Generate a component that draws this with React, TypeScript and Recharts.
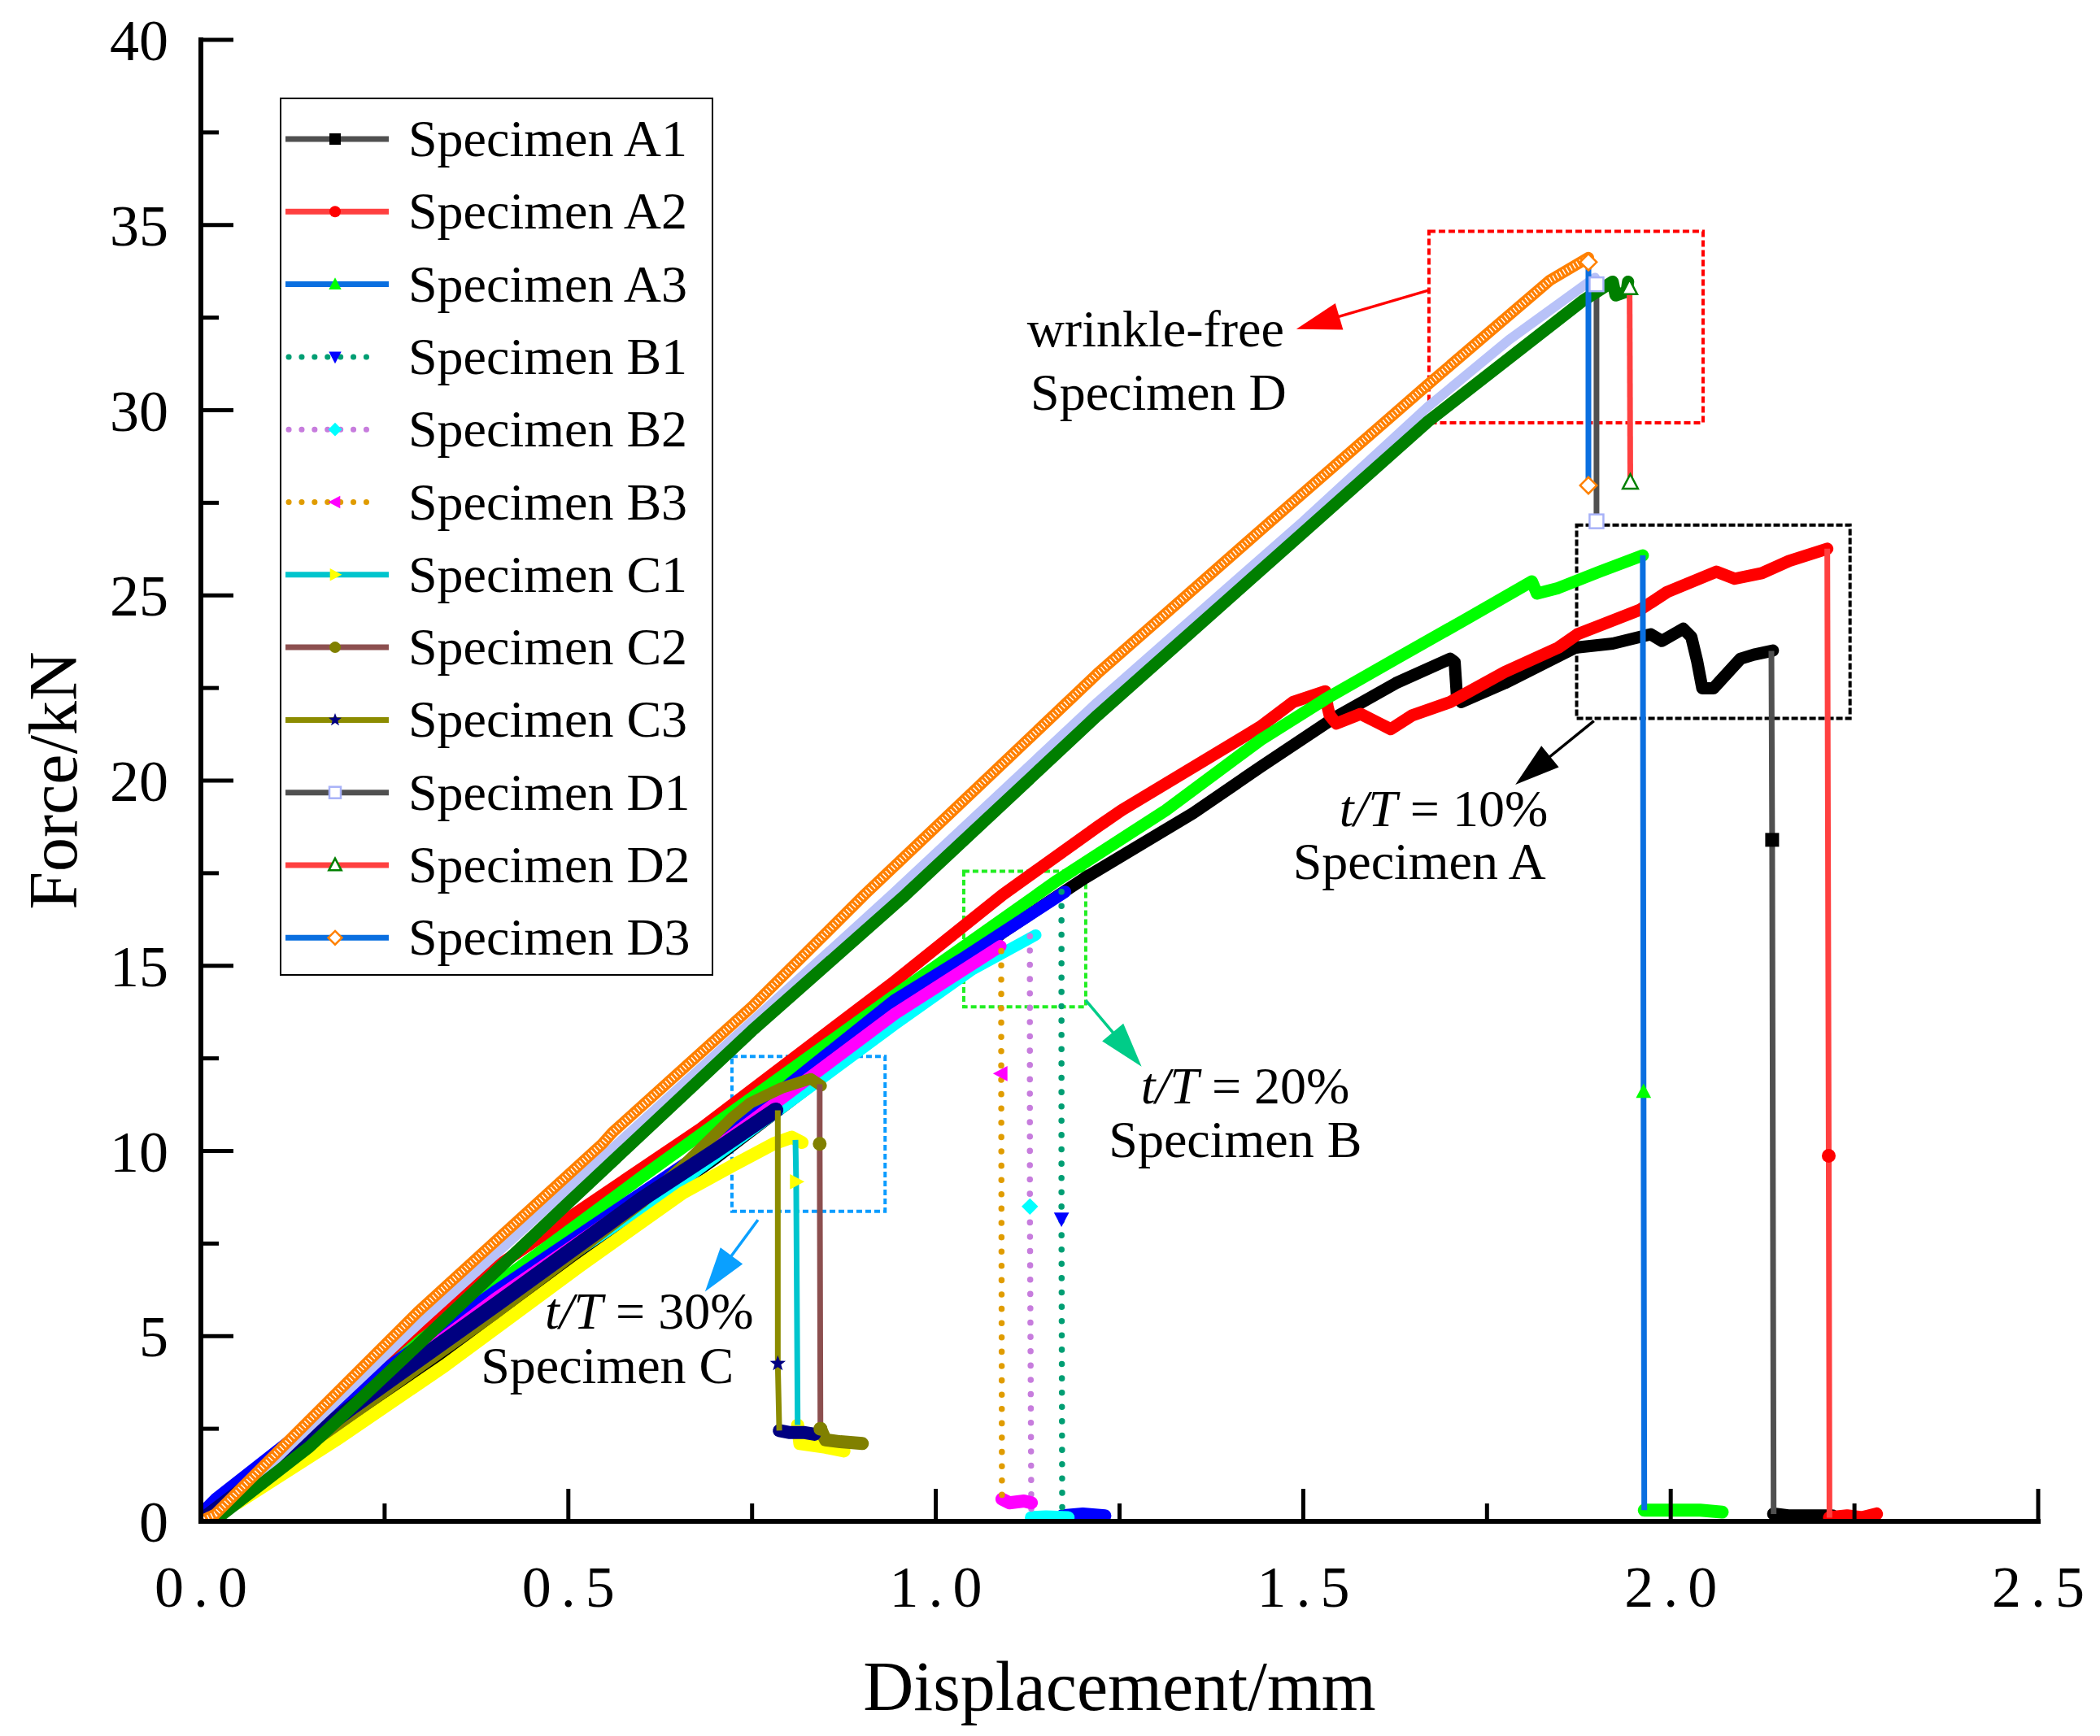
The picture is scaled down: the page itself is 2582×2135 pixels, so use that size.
import React from 'react';
import {
  ComposedChart, Line, XAxis, YAxis, Legend, ReferenceArea, ReferenceLine, ReferenceDot, Label,
} from 'recharts';

const FONT = '"Liberation Serif", "Times New Roman", serif';

// ---------- axis ticks ----------
const X_TICKS = [0, 0.25, 0.5, 0.75, 1, 1.25, 1.5, 1.75, 2, 2.25, 2.5];
const X_LABELS = ['0.0', '0.5', '1.0', '1.5', '2.0', '2.5'];
const Y_TICKS = [0, 2.5, 5, 7.5, 10, 12.5, 15, 17.5, 20, 22.5, 25, 27.5, 30, 32.5, 35, 37.5, 40];
const Y_LABELS = ['0', '5', '10', '15', '20', '25', '30', '35', '40'];

// ---------- series names ----------
const NAMES = [
  'Specimen A1', 'Specimen A2', 'Specimen A3',
  'Specimen B1', 'Specimen B2', 'Specimen B3',
  'Specimen C1', 'Specimen C2', 'Specimen C3',
  'Specimen D1', 'Specimen D2', 'Specimen D3',
];

// ---------- data: [displacement mm, force kN] ----------
const A1_LOAD: [number, number][] = [[0, 0], [0.05, 0.5], [0.184, 2.5], [0.332, 4.6], [0.5, 7.0], [0.7, 9.8], [0.944, 13.5], [1.091, 15.9], [1.202, 17.36], [1.35, 19.12], [1.442, 20.37], [1.541, 21.68], [1.626, 22.63], [1.7, 23.29], [1.706, 23.2], [1.709, 22.3], [1.715, 22.12], [1.774, 22.63], [1.87, 23.59], [1.921, 23.7], [1.973, 23.95], [1.988, 23.77], [2.017, 24.1], [2.028, 23.88], [2.036, 23.22], [2.043, 22.49], [2.058, 22.49], [2.095, 23.29], [2.113, 23.4], [2.139, 23.51]];
const A1_DROP: [number, number][] = [[2.137, 23.5], [2.138, 18.4], [2.14, 0.2]];
const A1_TAIL: [number, number][] = [[2.14, 0.2], [2.16, 0.15], [2.19, 0.15], [2.22, 0.15]];

const A2_LOAD: [number, number][] = [[0, 0], [0.05, 0.6], [0.2, 3.5], [0.387, 6.67], [0.68, 10.6], [0.944, 14.58], [1.091, 16.92], [1.22, 18.75], [1.253, 19.2], [1.442, 21.46], [1.486, 22.12], [1.53, 22.41], [1.533, 22.0], [1.536, 21.76], [1.545, 21.54], [1.578, 21.8], [1.604, 21.54], [1.619, 21.39], [1.648, 21.76], [1.7, 22.12], [1.774, 22.93], [1.847, 23.59], [1.873, 23.95], [1.958, 24.61], [1.995, 25.09], [2.062, 25.64], [2.087, 25.45], [2.124, 25.6], [2.161, 25.93], [2.213, 26.26]];
const A2_DROP: [number, number][] = [[2.213, 26.26], [2.215, 9.87], [2.216, 0.1]];
const A2_TAIL: [number, number][] = [[2.216, 0.1], [2.24, 0.15], [2.26, 0.1], [2.28, 0.2]];

const A3_LOAD: [number, number][] = [[0, 0], [0.05, 0.6], [0.3, 4.9], [0.6, 9.3], [0.944, 14.2], [1.165, 17.3], [1.313, 19.2], [1.442, 21.1], [1.53, 22.2], [1.626, 23.29], [1.718, 24.32], [1.811, 25.38], [1.818, 25.05], [1.847, 25.2], [1.903, 25.64], [1.962, 26.08]];
const A3_DROP: [number, number][] = [[1.962, 26.08], [1.963, 11.6], [1.964, 0.3]];
const A3_TAIL: [number, number][] = [[1.964, 0.3], [2.0, 0.3], [2.04, 0.3], [2.07, 0.25]];

const B1_LOAD: [number, number][] = [[0, 0.2], [0.02, 0.6], [0.2, 3.4], [0.4, 6.2], [0.7, 10.2], [0.944, 14.07], [1.04, 15.24], [1.176, 17.0]];
const B1_DROP: [number, number][] = [[1.171, 17.0], [1.171, 8.17], [1.172, 0.15]];
const B1_TAIL: [number, number][] = [[1.172, 0.15], [1.2, 0.2], [1.23, 0.15]];

const B2_LOAD: [number, number][] = [[0, 0], [0.2, 2.9], [0.4, 5.8], [0.664, 9.31], [0.944, 13.41], [1.05, 14.9], [1.136, 15.83]];
const B2_DROP: [number, number][] = [[1.128, 15.8], [1.128, 8.5], [1.13, 0.1]];
const B2_TAIL: [number, number][] = [[1.13, 0.1], [1.15, 0.12], [1.18, 0.1]];

const B3_LOAD: [number, number][] = [[0, 0], [0.2, 3.0], [0.4, 6.0], [0.693, 9.97], [0.944, 13.7], [1.088, 15.53]];
const B3_DROP: [number, number][] = [[1.089, 15.4], [1.089, 12.09], [1.09, 0.6]];
const B3_TAIL: [number, number][] = [[1.09, 0.6], [1.1, 0.5], [1.12, 0.55], [1.13, 0.5]];

const C1_LOAD: [number, number][] = [[0, 0], [0.05, 0.5], [0.184, 2.2], [0.332, 4.2], [0.516, 6.9], [0.656, 8.87], [0.723, 9.6], [0.78, 10.2], [0.804, 10.37], [0.818, 10.23]];
const C1_DROP: [number, number][] = [[0.809, 10.3], [0.81, 9.17], [0.812, 2.6]];
const C1_TAIL: [number, number][] = [[0.812, 2.6], [0.815, 2.1], [0.85, 2.0], [0.875, 1.9]];

const C2_LOAD: [number, number][] = [[0, 0], [0.2, 2.8], [0.4, 5.6], [0.6, 8.6], [0.656, 9.6], [0.723, 10.9], [0.748, 11.3], [0.79, 11.7], [0.83, 11.95], [0.844, 11.76]];
const C2_DROP: [number, number][] = [[0.842, 11.8], [0.842, 10.19], [0.843, 2.5]];
const C2_TAIL: [number, number][] = [[0.843, 2.5], [0.85, 2.2], [0.87, 2.15], [0.9, 2.1]];

const C3_LOAD: [number, number][] = [[0, 0], [0.2, 3.0], [0.405, 5.9], [0.6, 8.7], [0.7, 10.0], [0.782, 11.1]];
const C3_DROP: [number, number][] = [[0.785, 11.1], [0.785, 4.26], [0.787, 2.45]];
const C3_TAIL: [number, number][] = [[0.787, 2.45], [0.8, 2.4], [0.82, 2.4], [0.835, 2.35]];

const D1_LOAD: [number, number][] = [[0, 0], [0.03, 0.3], [0.15, 2.6], [0.3, 5.4], [0.498, 8.95], [0.75, 13.5], [0.94, 16.92], [1.22, 22.12], [1.5, 27.0], [1.67, 30.1], [1.78, 31.9], [1.897, 33.58]];
const D1_DROP: [number, number][] = [[1.899, 33.4], [1.899, 27.0]];
const D1_TAIL: [number, number][] = [];

const D2_LOAD: [number, number][] = [[0, 0], [0.03, 0.2], [0.147, 2.0], [0.3, 4.85], [0.5, 8.6], [0.75, 13.25], [0.959, 16.92], [1.22, 21.76], [1.5, 26.7], [1.67, 29.7], [1.88, 32.95], [1.921, 33.47], [1.925, 33.1], [1.94, 33.2], [1.942, 33.47]];
const D2_DROP: [number, number][] = [[1.944, 33.3], [1.945, 28.05]];
const D2_TAIL: [number, number][] = [];

const D3_LOAD: [number, number][] = [[0, 0], [0.02, 0.2], [0.147, 2.72], [0.295, 5.65], [0.546, 10.19], [0.56, 10.5], [0.75, 13.9], [0.903, 16.92], [1.22, 22.89], [1.45, 26.9], [1.67, 30.7], [1.835, 33.5], [1.888, 34.12]];
const D3_DROP: [number, number][] = [[1.888, 34.0], [1.888, 27.97]];
const D3_TAIL: [number, number][] = [];

const LOADS = [A1_LOAD, A2_LOAD, A3_LOAD, B1_LOAD, B2_LOAD, B3_LOAD, C1_LOAD, C2_LOAD, C3_LOAD, D1_LOAD, D2_LOAD, D3_LOAD];
const DROPS = [A1_DROP, A2_DROP, A3_DROP, B1_DROP, B2_DROP, B3_DROP, C1_DROP, C2_DROP, C3_DROP, D1_DROP, D2_DROP, D3_DROP];
const TAILS = [A1_TAIL, A2_TAIL, A3_TAIL, B1_TAIL, B2_TAIL, B3_TAIL, C1_TAIL, C2_TAIL, C3_TAIL, D1_TAIL, D2_TAIL, D3_TAIL];
// which points of each drop carry a visible marker
const DROP_MARKS = [[1], [1], [1], [1], [1], [1], [1], [1, 2], [1], [0, 1], [0, 1], [0, 1]];

// ---------- styles ----------
const LINE_COLORS = ['#505050', '#ff4040', '#0a6fe0', '#009e73', '#c77cdd', '#e09c00', '#00c5cd', '#8c4f4f', '#8c8c00', '#505050', '#ff4040', '#0a6fe0'];
const MARK_COLORS = ['#000000', '#ff0000', '#00ff00', '#0000ff', '#00ffff', '#ff00ff', '#ffff00', '#808000', '#000080', '#a8b2f8', '#008000', '#ff8000'];
const BAND_COLORS = ['#000000', '#ff0000', '#00ff00', '#0000ff', '#00ffff', '#ff00ff', '#ffff00', '#808000', '#000080', '#b8c2f8', '#007f00', '#ff8000'];
const BAND_W = [15, 15, 15, 15, 14, 15, 16, 14, 19, 12, 15, 14];
const SHAPES = ['square', 'circle', 'triangle', 'triangleDown', 'diamond', 'triangleLeft', 'triangleRight', 'circle', 'star', 'squareHollow', 'triangleHollow', 'diamondHollow'];
const DOTTED = [false, false, false, true, true, true, false, false, false, false, false, false];

const toPts = (a: [number, number][]) => a.map(([x, y]) => ({ x, y }));

function Marker({ shape, cx, cy, s, color }: { shape: string; cx: number; cy: number; s: number; color: string }) {
  const h = s / 2;
  const hollow = shape.endsWith('Hollow');
  const fill = hollow ? '#ffffff' : color;
  const stroke = hollow ? color : 'none';
  const sw = hollow ? 2.5 : 0;
  const base = shape.replace('Hollow', '');
  if (base === 'square') return <rect x={cx - h} y={cy - h} width={s} height={s} fill={fill} stroke={stroke} strokeWidth={sw} />;
  if (base === 'circle') return <circle cx={cx} cy={cy} r={h} fill={fill} stroke={stroke} strokeWidth={sw} />;
  let pts: number[][] = [];
  if (base === 'triangle') pts = [[cx, cy - 1.2 * h], [cx - 1.1 * h, cy + 0.9 * h], [cx + 1.1 * h, cy + 0.9 * h]];
  if (base === 'triangleDown') pts = [[cx, cy + 1.2 * h], [cx - 1.1 * h, cy - 0.9 * h], [cx + 1.1 * h, cy - 0.9 * h]];
  if (base === 'triangleLeft') pts = [[cx - 1.2 * h, cy], [cx + 0.9 * h, cy - 1.1 * h], [cx + 0.9 * h, cy + 1.1 * h]];
  if (base === 'triangleRight') pts = [[cx + 1.2 * h, cy], [cx - 0.9 * h, cy - 1.1 * h], [cx - 0.9 * h, cy + 1.1 * h]];
  if (base === 'diamond') pts = [[cx, cy - 1.2 * h], [cx + 1.2 * h, cy], [cx, cy + 1.2 * h], [cx - 1.2 * h, cy]];
  if (base === 'star') {
    for (let k = 0; k < 10; k++) {
      const r = k % 2 === 0 ? 1.2 * h : 0.5 * h;
      const a = -Math.PI / 2 + (k * Math.PI) / 5;
      pts.push([cx + r * Math.cos(a), cy + r * Math.sin(a)]);
    }
  }
  return <polygon points={pts.map((p) => p.join(',')).join(' ')} fill={fill} stroke={stroke} strokeWidth={sw} strokeLinejoin="miter" />;
}

// ---------- annotations (data coordinates) ----------
const BOXES = [
  { x1: 1.671, x2: 2.044, y1: 29.66, y2: 34.83, color: '#ff0000', dash: '8 4' },
  { x1: 1.872, x2: 2.244, y1: 21.68, y2: 26.9, color: '#000000', dash: '8 3' },
  { x1: 1.038, x2: 1.204, y1: 13.89, y2: 17.55, color: '#22ee22', dash: '7 4' },
  { x1: 0.7226, x2: 0.931, y1: 8.37, y2: 12.55, color: '#0a9cff', dash: '7 4' },
];
const ARROWS = [
  { from: { x: 1.671, y: 33.24 }, to: { x: 1.4905, y: 32.19 }, color: '#ff0000' },
  { from: { x: 1.8955, y: 21.61 }, to: { x: 1.7886, y: 19.89 }, color: '#000000' },
  { from: { x: 1.204, y: 14.07 }, to: { x: 1.28, y: 12.28 }, color: '#00cc88' },
  { from: { x: 0.758, y: 8.14 }, to: { x: 0.686, y: 6.2 }, color: '#0aa0ff' },
];
const NOTES = [
  { x: 1.299, y: 31.72, italic: '', text: 'wrinkle-free' },
  { x: 1.303, y: 30.02, italic: '', text: 'Specimen D' },
  { x: 1.691, y: 18.77, italic: 't/T', text: ' = 10%' },
  { x: 1.658, y: 17.34, italic: '', text: 'Specimen A' },
  { x: 1.421, y: 11.28, italic: 't/T', text: ' = 20%' },
  { x: 1.4075, y: 9.84, italic: '', text: 'Specimen B' },
  { x: 0.61, y: 5.21, italic: 't/T', text: ' = 30%' },
  { x: 0.553, y: 3.73, italic: '', text: 'Specimen C' },
];

const arrowShape = (color: string) => (p: any) => {
  const { x1, y1, x2, y2 } = p;
  const dx = x2 - x1;
  const dy = y2 - y1;
  const L = Math.hypot(dx, dy) || 1;
  const ux = dx / L;
  const uy = dy / L;
  const headL = 55;
  const headW = 17;
  const bx = x2 - ux * headL;
  const by = y2 - uy * headL;
  const px = -uy;
  const py = ux;
  return (
    <g>
      <line x1={x1} y1={y1} x2={bx + ux * 5} y2={by + uy * 5} stroke={color} strokeWidth={3.5} />
      <polygon points={`${x2},${y2} ${bx + px * headW},${by + py * headW} ${bx - px * headW},${by - py * headW}`} fill={color} />
    </g>
  );
};

const isMajorX = (v: number) => Math.abs(v * 2 - Math.round(v * 2)) < 1e-6;
const isMajorY = (v: number) => Math.abs(v / 5 - Math.round(v / 5)) < 1e-6;
const MAJOR = 40;
const MINOR = 22;
const TICK_W = 5;

const BottomTick = (p: any) => {
  const v = p.payload.value;
  const major = isMajorX(v);
  return (
    <g>
      <line x1={p.x} x2={p.x} y1={p.y} y2={p.y - (major ? MAJOR : MINOR)} stroke="#000" strokeWidth={TICK_W} />
      {major && (
        <text x={p.x + 6} y={p.y + 105} textAnchor="middle" fontFamily={FONT} fontSize={72} letterSpacing={12} fill="#000">
          {X_LABELS[Math.round(v * 2)]}
        </text>
      )}
    </g>
  );
};
const TopTick = (p: any) => {
  const v = p.payload.value;
  const major = isMajorX(v);
  return <line x1={p.x} x2={p.x} y1={p.y} y2={p.y + (major ? MAJOR : MINOR)} stroke="#000" strokeWidth={TICK_W} />;
};
const LeftTick = (p: any) => {
  const v = p.payload.value;
  const major = isMajorY(v);
  return (
    <g>
      <line x1={p.x} x2={p.x + (major ? MAJOR : MINOR)} y1={p.y} y2={p.y} stroke="#000" strokeWidth={TICK_W} />
      {major && (
        <text x={p.x - 40} y={p.y + 25} textAnchor="end" fontFamily={FONT} fontSize={72} fill="#000">
          {Y_LABELS[Math.round(v / 5)]}
        </text>
      )}
    </g>
  );
};
const RightTick = (p: any) => {
  const v = p.payload.value;
  const major = isMajorY(v);
  return <line x1={p.x} x2={p.x - (major ? MAJOR : MINOR)} y1={p.y} y2={p.y} stroke="#000" strokeWidth={TICK_W} />;
};

const LegendBox = () => (
  <svg width={533} height={1080} style={{ display: 'block' }}>
    <rect x={1} y={1} width={531} height={1078} fill="#ffffff" stroke="#000" strokeWidth={2} />
    {NAMES.map((n, i) => {
      const cy = 51 + i * 89.3;
      return (
        <g key={n}>
          <line
            x1={DOTTED[i] ? 11 : 7}
            x2={DOTTED[i] ? 122 : 134}
            y1={cy}
            y2={cy}
            stroke={LINE_COLORS[i]}
            strokeWidth={7}
            strokeDasharray={DOTTED[i] ? '0.1 15.8' : undefined}
            strokeLinecap={DOTTED[i] ? 'round' : 'butt'}
          />
          <Marker shape={SHAPES[i]} cx={68} cy={cy} s={14} color={MARK_COLORS[i]} />
          <text x={158} y={cy + 21} fontFamily={FONT} fontSize={64} fill="#000">{n}</text>
        </g>
      );
    })}
  </svg>
);

export default function App() {
  const axisLine = { stroke: '#000', strokeWidth: 6, strokeLinecap: 'square' as const };
  return (
    <div style={{ width: 2582, height: 2135, background: '#fff' }}>
      <style>{'body{margin:0;background:#fff}'}</style>
      <ComposedChart width={2582} height={2135} margin={{ top: 49, right: 76, bottom: 64, left: 47 }}>
        <XAxis
          xAxisId={0}
          dataKey="x"
          type="number"
          domain={[0, 2.5]}
          allowDataOverflow
          ticks={X_TICKS}
          interval={0}
          height={200}
          tickSize={0}
          tickMargin={0}
          tickLine={false}
          axisLine={axisLine}
          tick={(p: any) => <BottomTick {...p} />}
        >
          <Label
            content={(props: any) => {
              const vb = props.viewBox || {};
              return (
                <text x={vb.x + vb.width / 2} y={vb.y + 232} textAnchor="middle" fontFamily={FONT} fontSize={86} fill="#000">
                  Displacement/mm
                </text>
              );
            }}
          />
        </XAxis>
        <XAxis
          xAxisId="top"
          orientation="top"
          type="number"
          domain={[0, 2.5]}
          allowDataOverflow
          ticks={X_TICKS}
          interval={0}
          height={0}
          tickSize={0}
          tickMargin={0}
          tickLine={false}
          axisLine={axisLine}
          tick={(p: any) => <TopTick {...p} />}
        />
        <YAxis
          yAxisId={0}
          dataKey="y"
          type="number"
          domain={[0, 40]}
          allowDataOverflow
          ticks={Y_TICKS}
          interval={0}
          width={200}
          tickSize={0}
          tickMargin={0}
          tickLine={false}
          axisLine={axisLine}
          tick={(p: any) => <LeftTick {...p} />}
        >
          <Label
            content={(props: any) => {
              const vb = props.viewBox || {};
              const cy = vb.y + vb.height / 2;
              return (
                <text x={94} y={cy} transform={`rotate(-90, 94, ${cy})`} textAnchor="middle" fontFamily={FONT} fontSize={84} fill="#000">
                  Force/kN
                </text>
              );
            }}
          />
        </YAxis>
        <YAxis
          yAxisId="right"
          orientation="right"
          type="number"
          domain={[0, 40]}
          allowDataOverflow
          ticks={Y_TICKS}
          interval={0}
          width={0}
          tickSize={0}
          tickMargin={0}
          tickLine={false}
          axisLine={axisLine}
          tick={(p: any) => <RightTick {...p} />}
        />

        {NAMES.map((n, i) => {
          const els = [
            <Line
              key={`load${i}`}
              data={toPts(LOADS[i])}
              dataKey="y"
              type="linear"
              stroke={BAND_COLORS[i]}
              strokeWidth={BAND_W[i]}
              strokeLinejoin="round"
              strokeLinecap="round"
              dot={false}
              activeDot={false}
              legendType="none"
              isAnimationActive={false}
            />,
          ];
          if (i === 11) {
            els.push(
              <Line
                key={`hatch${i}`}
                data={toPts(LOADS[i])}
                dataKey="y"
                type="linear"
                stroke="#ffffff"
                strokeWidth={7}
                strokeDasharray="1.4 3.4"
                dot={false}
                activeDot={false}
                legendType="none"
                isAnimationActive={false}
              />,
            );
          }
          if (TAILS[i].length) {
            els.push(
              <Line
                key={`tail${i}`}
                data={toPts(TAILS[i])}
                dataKey="y"
                type="linear"
                stroke={BAND_COLORS[i]}
                strokeWidth={16}
                strokeLinejoin="round"
                strokeLinecap="round"
                dot={false}
                activeDot={false}
                legendType="none"
                isAnimationActive={false}
              />,
            );
          }
          els.push(
            <Line
              key={`drop${i}`}
              data={toPts(DROPS[i])}
              dataKey="y"
              type="linear"
              stroke={LINE_COLORS[i]}
              strokeWidth={DOTTED[i] ? 7.5 : 7}
              strokeDasharray={DOTTED[i] ? '0.1 17.5' : undefined}
              strokeLinecap={DOTTED[i] ? 'round' : 'butt'}
              activeDot={false}
              legendType="none"
              isAnimationActive={false}
              dot={(p: any) =>
                DROP_MARKS[i].includes(p.index) ? (
                  <Marker key={`m${i}-${p.index}`} shape={SHAPES[i]} cx={p.cx} cy={p.cy} s={17} color={MARK_COLORS[i]} />
                ) : (
                  <g key={`m${i}-${p.index}`} />
                )
              }
            />,
          );
          return els;
        })}

        {BOXES.map((b, i) => (
          <ReferenceArea
            key={`box${i}`}
            x1={b.x1}
            x2={b.x2}
            y1={b.y1}
            y2={b.y2}
            fill="none"
            fillOpacity={0}
            stroke={b.color}
            strokeWidth={4}
            strokeDasharray={b.dash}
            ifOverflow="visible"
          />
        ))}
        {ARROWS.map((a, i) => (
          <ReferenceLine key={`arr${i}`} segment={[a.from, a.to]} stroke={a.color} ifOverflow="visible" shape={arrowShape(a.color)} />
        ))}
        {NOTES.map((t, i) => (
          <ReferenceDot
            key={`note${i}`}
            x={t.x}
            y={t.y}
            r={0}
            ifOverflow="visible"
            shape={(p: any) => (
              <text x={p.cx} y={p.cy} textAnchor="middle" fontFamily={FONT} fontSize={64} fill="#000">
                {t.italic ? <tspan fontStyle="italic">{t.italic}</tspan> : null}
                <tspan>{t.text}</tspan>
              </text>
            )}
          />
        ))}

        <Legend
          layout="horizontal"
          verticalAlign="middle"
          align="center"
          wrapperStyle={{ left: 344, top: 120, width: 533, height: 1080 }}
          content={() => <LegendBox />}
        />
      </ComposedChart>
    </div>
  );
}
